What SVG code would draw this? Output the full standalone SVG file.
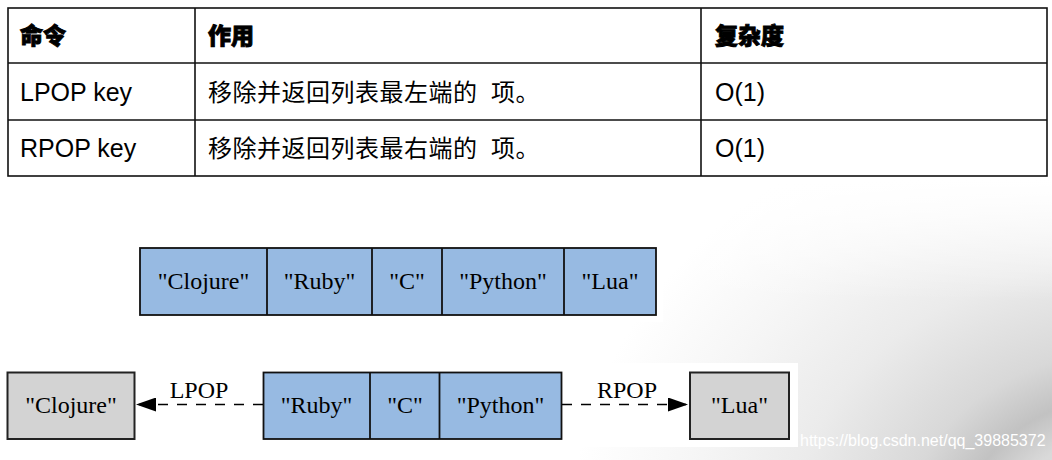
<svg xmlns="http://www.w3.org/2000/svg" width="1052" height="460" viewBox="0 0 1052 460">
  <defs>
    <radialGradient id="bgShade" cx="1130" cy="530" r="560" gradientUnits="userSpaceOnUse" gradientTransform="translate(1130 530) scale(1 0.8) translate(-1130 -530)">
      <stop offset="0" stop-color="#e6e6e6"/>
      <stop offset="0.22" stop-color="#d9d9d9"/>
      <stop offset="0.3" stop-color="#c2c2c2"/>
      <stop offset="0.4" stop-color="#d8d8d8"/>
      <stop offset="0.6" stop-color="#ebebeb"/>
      <stop offset="0.8" stop-color="#f6f6f6"/>
      <stop offset="1" stop-color="#ffffff"/>
    </radialGradient>
    <linearGradient id="topFade" x1="0" y1="0" x2="0" y2="300" gradientUnits="userSpaceOnUse">
      <stop offset="0" stop-color="#ffffff" stop-opacity="1"/>
      <stop offset="0.6" stop-color="#ffffff" stop-opacity="1"/>
      <stop offset="1" stop-color="#ffffff" stop-opacity="0"/>
    </linearGradient>
    <marker id="arrow" viewBox="0 0 20 14" refX="20" refY="7" markerWidth="20" markerHeight="14" markerUnits="userSpaceOnUse" orient="auto">
      <path d="M0,0 L20,7 L0,14 Z" fill="#000"/>
    </marker>
    <style>
      .tbl { fill: none; stroke: #111; stroke-width: 1.6; }
      .hd { font-family: "Noto Sans CJK SC", "Liberation Sans", sans-serif; font-size: 23px; font-weight: 900; fill: #000; stroke: #000; stroke-width: 0.9; }
      .cell { font-family: "Liberation Sans", Arial, sans-serif; font-size: 25px; fill: #000; }
      .cjk { font-family: "Noto Sans CJK SC", sans-serif; font-size: 24px; letter-spacing: 0.5px; fill: #000; }
      .blue { fill: #97bae2; stroke: #111; stroke-width: 1.8; }
      .grey { fill: #d3d3d3; stroke: #222; stroke-width: 2; }
      .lbl { font-family: "Liberation Serif", "Times New Roman", serif; font-size: 24px; fill: #000; text-anchor: middle; }
      .edge { stroke: #000; stroke-width: 1.5; stroke-dasharray: 10 9; fill: none; }
      .wm { font-family: "Liberation Sans", Arial, sans-serif; font-size: 16px; fill: #ffffff; }
    </style>
  </defs>

  <!-- background -->
  <rect x="0" y="0" width="1052" height="460" fill="#ffffff"/>
  <rect x="0" y="0" width="1052" height="460" fill="url(#bgShade)"/>
  <rect x="0" y="0" width="1052" height="300" fill="url(#topFade)"/>
  <rect x="133" y="240" width="530" height="82" fill="#ffffff"/>
  <rect x="0" y="363" width="798" height="84" fill="#ffffff"/>

  <!-- table -->
  <g id="table">
    <rect class="tbl" x="8" y="8" width="1039" height="168" stroke-width="2"/>
    <line class="tbl" x1="8" y1="63" x2="1047" y2="63"/>
    <line class="tbl" x1="8" y1="120" x2="1047" y2="120"/>
    <line class="tbl" x1="195" y1="8" x2="195" y2="176"/>
    <line class="tbl" x1="701" y1="8" x2="701" y2="176"/>
    <text class="hd" x="20" y="44">命令</text>
    <text class="hd" x="208" y="44">作用</text>
    <text class="hd" x="715" y="44">复杂度</text>
    <text class="cell" x="20" y="101">LPOP key</text>
    <text class="cjk" x="208" y="101">移除并返回列表最左端的<tspan x="491">项。</tspan></text>
    <text class="cell" x="715" y="101">O(1)</text>
    <text class="cell" x="20" y="157">RPOP key</text>
    <text class="cjk" x="208" y="157">移除并返回列表最右端的<tspan x="491">项。</tspan></text>
    <text class="cell" x="715" y="157">O(1)</text>
  </g>

  <!-- top list -->
  <g id="list-full">
    <rect class="blue" x="140" y="248" width="516" height="67"/>
    <line class="blue" x1="267" y1="248" x2="267" y2="315"/>
    <line class="blue" x1="372" y1="248" x2="372" y2="315"/>
    <line class="blue" x1="442" y1="248" x2="442" y2="315"/>
    <line class="blue" x1="564" y1="248" x2="564" y2="315"/>
    <text class="lbl" x="203.5" y="289">"Clojure"</text>
    <text class="lbl" x="319.5" y="289">"Ruby"</text>
    <text class="lbl" x="407" y="289">"C"</text>
    <text class="lbl" x="503" y="289">"Python"</text>
    <text class="lbl" x="610" y="289">"Lua"</text>
  </g>

  <!-- bottom -->
  <g id="clojure-node">
    <rect class="grey" x="7.5" y="372.5" width="127" height="66.5"/>
    <text class="lbl" x="71" y="413">"Clojure"</text>
  </g>
  <g id="list-rest">
    <rect class="blue" x="263.5" y="372.5" width="298" height="66.5"/>
    <line class="blue" x1="370" y1="372.5" x2="370" y2="439"/>
    <line class="blue" x1="439.5" y1="372.5" x2="439.5" y2="439"/>
    <text class="lbl" x="316.5" y="413">"Ruby"</text>
    <text class="lbl" x="405" y="413">"C"</text>
    <text class="lbl" x="500.5" y="413">"Python"</text>
  </g>
  <g id="lua-node">
    <rect class="grey" x="690" y="372.5" width="99" height="66.5"/>
    <text class="lbl" x="739.5" y="413">"Lua"</text>
  </g>

  <g id="connectors">
    <line class="edge" x1="263" y1="404.5" x2="136" y2="404.5" marker-end="url(#arrow)"/>
    <text class="lbl" x="199" y="398">LPOP</text>
    <line class="edge" x1="562" y1="404.5" x2="688" y2="404.5" marker-end="url(#arrow)"/>
    <text class="lbl" x="627" y="398">RPOP</text>
  </g>

  <text class="wm" x="800" y="446">https://blog.csdn.net/qq_39885372</text>
</svg>
